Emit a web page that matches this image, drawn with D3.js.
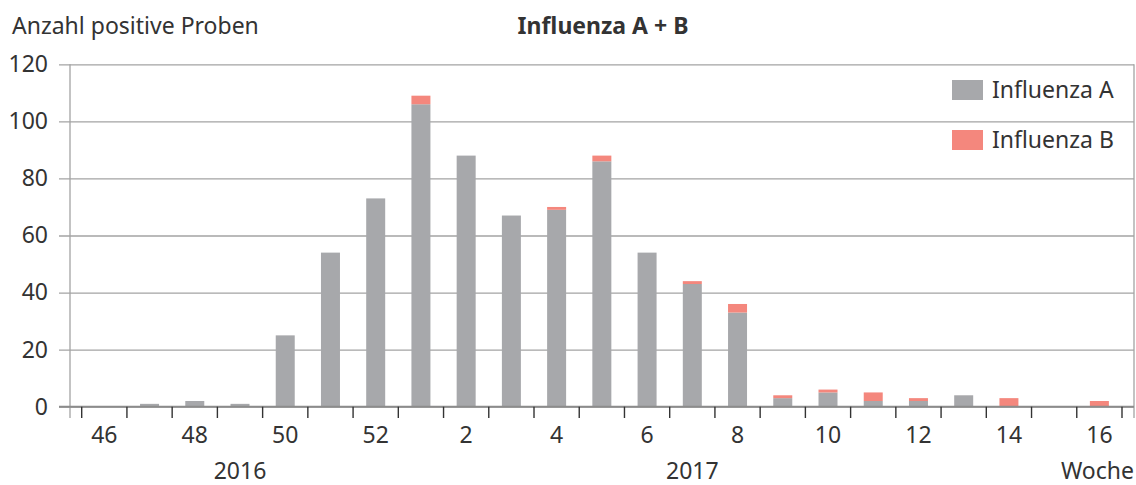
<!DOCTYPE html>
<html lang="de">
<head>
<meta charset="UTF-8">
<title>Influenza A + B</title>
<script src="https://d3js.org/d3.v7.min.js"></script>
<style>
    body {
        margin: 0;
        background: #fff;
        font-family: "Noto Sans", "Open Sans", sans-serif;
    }
    text {
        fill: #333;
    }
</style>
</head>
<body>
<div id="chart"></div>
<script>
// Kalenderwochen (2016: 46-52, 2017: 1-16)
const weeks = ["46", "47", "48", "49", "50", "51", "52", "1", "2", "3", "4", "5", "6", "7", "8", "9", "10", "11", "12", "13", "14", "15", "16"];
const influenzaA = [0, 1, 2, 1, 25, 54, 73, 106, 88, 67, 69, 86, 54, 43, 33, 3, 5, 2, 2, 4, 0, 0, 0];
const influenzaB = [0, 0, 0, 0, 0, 0, 0, 3, 0, 0, 1, 2, 0, 1, 3, 1, 1, 3, 1, 0, 3, 0, 2];
const labeledWeeks = ["46", "48", "50", "52", "2", "4", "6", "8", "10", "12", "14", "16"];
const yTicks = [0, 20, 40, 60, 80, 100, 120];
const series = ["Influenza A", "Influenza B"];
const colors = ["#a7a8ab", "#f4877d"];

const width = 1136, height = 485;
const plotLeft = 70, plotRight = 1134, plotTop = 64.3, plotBottom = 406.7;
const fs = 23;

const svg = d3.select("#chart").append("svg")
    .attr("width", width)
    .attr("height", height);

const x = d3.scaleBand()
    .domain(weeks)
    .range([81.7, 1122])
    .paddingInner(0.58)
    .paddingOuter(0.29);

const y = d3.scaleLinear()
    .domain([0, 120])
    .range([plotBottom, plotTop]);

// gridlines + y labels
const yAxis = svg.append("g")
    .attr("transform", "translate(59,0)")
    .call(d3.axisLeft(y).tickValues(yTicks).tickSize(-(plotRight - 59)).tickPadding(11));
yAxis.select(".domain").remove();
yAxis.selectAll(".tick line")
    .attr("stroke", "#a3a3a3")
    .attr("stroke-width", 1.3);
yAxis.selectAll(".tick text")
    .attr("font-size", fs)
    .attr("font-family", "Noto Sans")
    .attr("fill", "#333");

// frame lines left and right
[plotLeft, plotRight].forEach(px => {
    svg.append("line")
        .attr("x1", px).attr("x2", px)
        .attr("y1", plotTop).attr("y2", 418)
        .attr("stroke", "#a3a3a3")
        .attr("stroke-width", 1.3);
});

// stacked bars
const rows = weeks.map((w, i) => ({ week: w, a: influenzaA[i], b: influenzaB[i] }));
const stacked = d3.stack().keys(["a", "b"])(rows);

svg.append("g").selectAll("g")
    .data(stacked)
    .join("g")
    .attr("fill", (d, i) => colors[i])
    .selectAll("rect")
    .data(d => d)
    .join("rect")
    .attr("x", d => x(d.data.week))
    .attr("y", d => y(d[1]))
    .attr("width", x.bandwidth())
    .attr("height", d => y(d[0]) - y(d[1]));

// baseline
svg.append("line")
    .attr("x1", 59).attr("x2", plotRight)
    .attr("y1", y(0)).attr("y2", y(0))
    .attr("stroke", "#8c8c8c")
    .attr("stroke-width", 2);

// tick marks between weeks
const step = x.step();
const x0 = x.range()[0];
svg.append("g").selectAll("line")
    .data(d3.range(weeks.length + 1))
    .join("line")
    .attr("x1", i => x0 + i * step)
    .attr("x2", i => x0 + i * step)
    .attr("y1", y(0))
    .attr("y2", 418)
    .attr("stroke", "#333")
    .attr("stroke-width", 1.4);

// x labels
const xAxis = svg.append("g")
    .attr("transform", `translate(0,${y(0)})`)
    .call(d3.axisBottom(x).tickValues(labeledWeeks).tickSize(0).tickPadding(20));
xAxis.select(".domain").remove();
xAxis.selectAll(".tick text")
    .attr("font-size", fs)
    .attr("font-family", "Noto Sans")
    .attr("fill", "#333");

// year labels
svg.append("text")
    .attr("x", x("49") + x.bandwidth() / 2)
    .attr("y", 479)
    .attr("text-anchor", "middle")
    .attr("font-size", fs)
    .text("2016");
svg.append("text")
    .attr("x", x("7") + x.bandwidth() / 2)
    .attr("y", 479)
    .attr("text-anchor", "middle")
    .attr("font-size", fs)
    .text("2017");
svg.append("text")
    .attr("x", plotRight)
    .attr("y", 479)
    .attr("text-anchor", "end")
    .attr("font-size", fs)
    .text("Woche");

// titles
svg.append("text")
    .attr("x", 12)
    .attr("y", 34)
    .attr("font-size", fs)
    .text("Anzahl positive Proben");
svg.append("text")
    .attr("x", 603)
    .attr("y", 34)
    .attr("text-anchor", "middle")
    .attr("font-size", fs)
    .attr("font-weight", "bold")
    .text("Influenza A + B");

// legend
const legend = svg.append("g").selectAll("g")
    .data(series)
    .join("g")
    .attr("transform", (d, i) => `translate(952,${80 + i * 50})`);
legend.append("rect")
    .attr("width", 31)
    .attr("height", 20)
    .attr("fill", (d, i) => colors[i]);
legend.append("text")
    .attr("x", 40)
    .attr("y", 18)
    .attr("font-size", fs)
    .text(d => d);
</script>
</body>
</html>
